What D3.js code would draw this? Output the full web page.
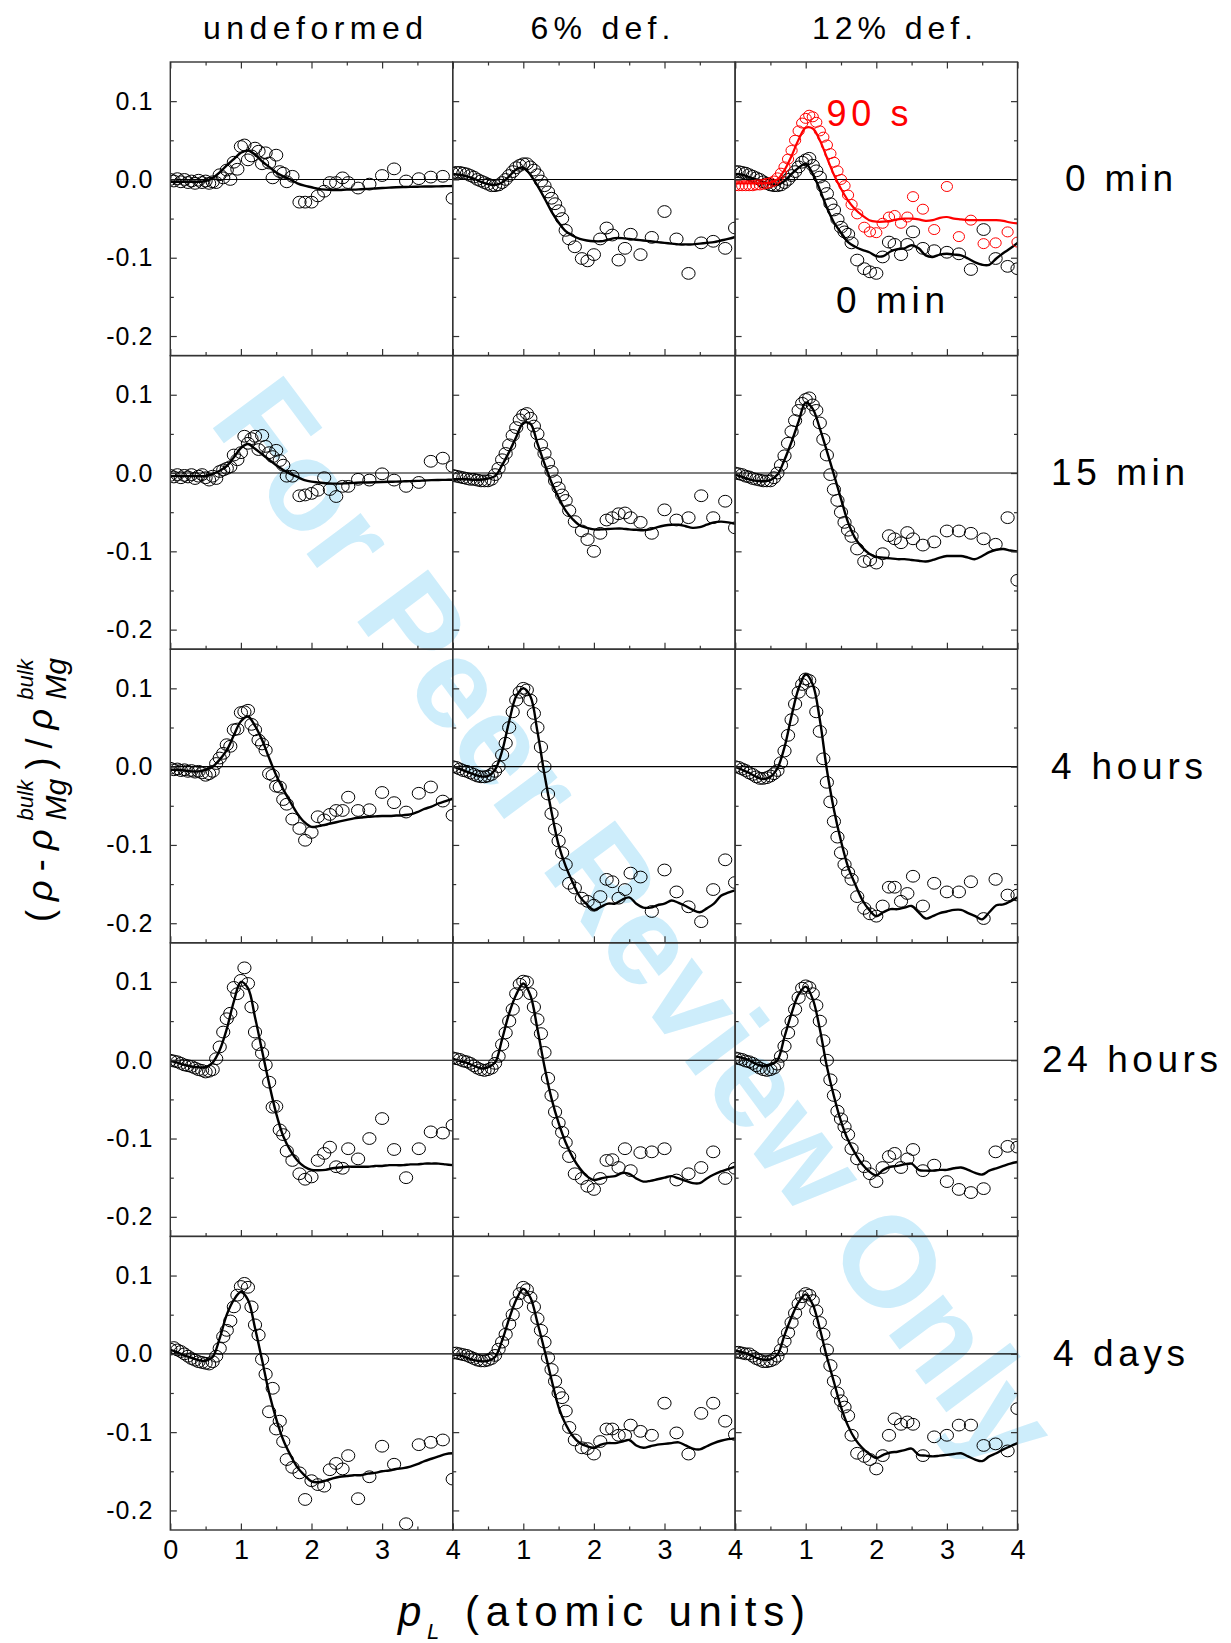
<!DOCTYPE html>
<html><head><meta charset="utf-8">
<script src="https://cdn.jsdelivr.net/npm/d3@7"></script>
<style>
body{margin:0;background:#fff}
svg{display:block}
text{font-family:"Liberation Sans",Arial,Helvetica,sans-serif}
</style>
</head><body>
<svg id="chart" width="1231" height="1643"></svg>
<script>
// ---------------- DATA ----------------
const columnTitles = ["undeformed", "6% def.", "12% def."];
const rowTitles = ["0 min", "15 min", "4 hours", "24 hours", "4 days"];
const yTickValues = [0.1, 0.0, -0.1, -0.2];
const yMinorValues = [0.05, -0.05, -0.15];
const xTickValues = [0, 1, 2, 3, 4];
const xMinorValues = [0.5, 1.5, 2.5, 3.5];

// momentum positions of the measured points
const xPts = [0,0.05,0.1,0.15,0.2,0.25,0.3,0.35,0.4,0.45,
  0.5,0.55,0.6,0.65,0.7,0.75,0.8,0.85,0.9,0.95,
  1.0,1.05,1.1,1.15,1.2,1.25,1.3,1.35,1.4,1.45,
  1.5,1.55,
  1.6,1.65,1.73,1.83,1.91,2.0,2.09,2.18,2.26,2.35,
  2.44,2.52,2.66,2.82,3.0,3.17,3.34,3.52,3.69,3.86,
  4.0];
// momentum positions of the fitted curves
const xFit = [0,0.1,0.2,0.3,0.4,0.5,0.6,0.7,0.8,0.9,
  1.0,1.1,1.2,1.3,1.4,1.5,1.6,1.7,1.8,1.9,
  2.0,2.1,2.2,2.3,2.4,2.5,2.6,2.7,2.8,2.9,
  3.0,3.1,3.2,3.3,3.4,3.5,3.6,3.7,3.8,3.9,
  4.0];

// ---- row 1 : 0 min ----
const undef_0min_pts = [0.0,-0.002,0.001,-0.003,0.0,-0.004,-0.002,-0.005,-0.001,-0.004,
  -0.002,-0.005,-0.003,-0.004,0.006,0.002,0.012,0.0,0.022,0.013,
  0.042,0.044,0.025,0.03,0.04,0.036,0.02,0.034,0.021,0.002,
  0.031,0.01,
  0.008,-0.003,0.004,-0.029,-0.029,-0.029,-0.021,-0.015,-0.004,-0.004,
  0.002,-0.004,-0.011,-0.006,0.005,0.0135,-0.002,0.001,0.003,0.004,
  -0.024];
const undef_0min_fit = [-0.003,-0.003,-0.003,-0.003,-0.003,-0.002,0.002,0.009,0.018,0.026,
  0.034,0.037,0.032,0.023,0.016,0.009,0.004,0.0,-0.005,-0.008,
  -0.010,-0.012,-0.013,-0.0135,-0.0135,-0.013,-0.013,-0.0125,-0.012,-0.0115,
  -0.011,-0.0105,-0.010,-0.0097,-0.0095,-0.0093,-0.009,-0.009,-0.0088,-0.0086,
  -0.0084];
const def6_0min_pts = [0.008,0.009,0.009,0.008,0.007,0.005,0.003,0.0,-0.002,-0.004,
  -0.006,-0.008,-0.008,-0.007,-0.004,0.0,0.005,0.01,0.015,0.018,
  0.02,0.02,0.016,0.012,0.006,-0.002,-0.008,-0.016,-0.024,-0.031,
  -0.04,-0.05,
  -0.065,-0.076,-0.086,-0.101,-0.104,-0.096,-0.076,-0.062,-0.071,-0.103,
  -0.088,-0.070,-0.096,-0.074,-0.041,-0.076,-0.12,-0.081,-0.079,-0.088,
  -0.062];
const def6_0min_fit = [0.007,0.006,0.004,0.001,-0.003,-0.006,-0.007,-0.004,0.004,0.013,
  0.015,0.006,-0.008,-0.024,-0.041,-0.055,-0.066,-0.072,-0.076,-0.078,
  -0.079,-0.079,-0.077,-0.075,-0.075,-0.076,-0.077,-0.078,-0.079,-0.080,
  -0.081,-0.082,-0.083,-0.083,-0.083,-0.082,-0.081,-0.080,-0.078,-0.076,
  -0.0735];
const def12_0min_pts = [0.01,0.01,0.009,0.008,0.006,0.004,0.002,0.0,-0.003,-0.005,
  -0.007,-0.008,-0.008,-0.007,-0.004,0.0,0.005,0.01,0.016,0.022,
  0.025,0.027,0.018,0.011,0.003,-0.009,-0.018,-0.031,-0.039,-0.051,
  -0.061,-0.067,
  -0.07,-0.081,-0.103,-0.114,-0.118,-0.12,-0.099,-0.08,-0.083,-0.096,
  -0.083,-0.067,-0.088,-0.091,-0.093,-0.095,-0.115,-0.064,-0.101,-0.111,
  -0.114];
const def12_0min_fit = [0.007,0.006,0.003,0.0,-0.003,-0.006,-0.007,-0.002,0.007,0.015,
  0.02,0.007,-0.013,-0.036,-0.055,-0.068,-0.080,-0.086,-0.090,-0.093,
  -0.098,-0.098,-0.092,-0.089,-0.088,-0.084,-0.088,-0.097,-0.099,-0.096,
  -0.095,-0.096,-0.097,-0.101,-0.106,-0.109,-0.109,-0.101,-0.094,-0.088,
  -0.081];
const def12_90s_pts = [-0.008,-0.008,-0.008,-0.008,-0.008,-0.008,-0.007,-0.007,-0.006,-0.005,
  -0.004,-0.002,0.002,0.008,0.016,0.026,0.037,0.05,0.062,0.072,
  0.078,0.082,0.08,0.073,0.062,0.054,0.044,0.033,0.022,0.011,
  0.0,-0.008,
  -0.02,-0.032,-0.044,-0.061,-0.067,-0.068,-0.056,-0.048,-0.046,-0.056,
  -0.048,-0.022,-0.038,-0.064,-0.009,-0.073,-0.052,-0.082,-0.081,-0.067,
  -0.08];
const def12_90s_fit = [-0.005,-0.005,-0.005,-0.005,-0.005,-0.004,0.0,0.012,0.03,0.051,
  0.066,0.065,0.05,0.028,0.006,-0.012,-0.027,-0.038,-0.046,-0.052,
  -0.054,-0.054,-0.053,-0.051,-0.050,-0.050,-0.051,-0.053,-0.052,-0.049,
  -0.048,-0.050,-0.051,-0.052,-0.052,-0.052,-0.052,-0.052,-0.053,-0.055,
  -0.056];

// ---- row 2 : 15 min ----
const undef_15min_pts = [-0.003,-0.005,-0.002,-0.006,-0.003,-0.005,-0.002,-0.007,-0.004,-0.002,
  -0.006,-0.009,-0.004,-0.007,0.002,0.004,0.006,0.008,0.023,0.017,
  0.026,0.047,0.038,0.044,0.047,0.03,0.048,0.034,0.026,0.021,
  0.029,0.016,
  0.01,-0.004,-0.004,-0.029,-0.028,-0.026,-0.022,-0.006,-0.021,-0.03,
  -0.017,-0.017,-0.008,-0.009,-0.001,-0.009,-0.017,-0.012,0.015,0.019,
  0.0085];
const undef_15min_fit = [-0.004,-0.004,-0.004,-0.004,-0.004,-0.004,-0.001,0.003,0.009,0.02,
  0.032,0.037,0.031,0.024,0.017,0.010,0.004,-0.001,-0.005,-0.009,
  -0.011,-0.012,-0.013,-0.0135,-0.0135,-0.013,-0.0125,-0.012,-0.012,-0.0118,
  -0.0115,-0.0112,-0.011,-0.0107,-0.0103,-0.01,-0.0095,-0.009,-0.0088,-0.0087,
  -0.0085];
const def6_15min_pts = [-0.003,-0.004,-0.005,-0.006,-0.007,-0.008,-0.008,-0.009,-0.01,-0.01,
  -0.01,-0.008,-0.002,0.006,0.017,0.025,0.036,0.048,0.058,0.068,
  0.074,0.076,0.07,0.06,0.05,0.036,0.025,0.013,0.002,-0.01,
  -0.019,-0.028,
  -0.035,-0.048,-0.062,-0.074,-0.085,-0.1,-0.077,-0.06,-0.057,-0.052,
  -0.051,-0.057,-0.063,-0.077,-0.047,-0.06,-0.057,-0.029,-0.057,-0.036,
  -0.07];
const def6_15min_fit = [-0.008,-0.008,-0.008,-0.0085,-0.0085,-0.007,-0.004,0.01,0.027,0.046,
  0.064,0.063,0.038,0.012,-0.012,-0.031,-0.048,-0.059,-0.067,-0.070,
  -0.072,-0.072,-0.0715,-0.071,-0.071,-0.072,-0.0725,-0.073,-0.072,-0.069,
  -0.067,-0.066,-0.066,-0.068,-0.070,-0.069,-0.066,-0.063,-0.062,-0.063,
  -0.065];
const def12_15min_pts = [0.0,-0.001,-0.002,-0.004,-0.005,-0.007,-0.008,-0.009,-0.01,-0.01,
  -0.01,-0.006,0.0,0.01,0.022,0.038,0.053,0.067,0.08,0.089,
  0.094,0.096,0.087,0.08,0.064,0.043,0.023,-0.002,-0.021,-0.035,
  -0.05,-0.063,
  -0.073,-0.081,-0.097,-0.113,-0.111,-0.115,-0.103,-0.08,-0.084,-0.089,
  -0.076,-0.084,-0.092,-0.088,-0.074,-0.074,-0.077,-0.084,-0.091,-0.057,
  -0.137];
const def12_15min_fit = [-0.002,-0.005,-0.008,-0.010,-0.0105,-0.009,-0.002,0.017,0.040,0.066,
  0.090,0.082,0.057,0.028,-0.002,-0.033,-0.063,-0.083,-0.095,-0.103,
  -0.107,-0.108,-0.109,-0.110,-0.110,-0.111,-0.112,-0.113,-0.111,-0.108,
  -0.106,-0.106,-0.106,-0.108,-0.110,-0.106,-0.101,-0.098,-0.097,-0.099,
  -0.1];

// ---- row 3 : 4 hours ----
const undef_4h_pts = [-0.002,-0.004,-0.003,-0.005,-0.004,-0.006,-0.005,-0.007,-0.006,-0.008,
  -0.011,-0.009,-0.006,0.004,0.011,0.017,0.028,0.026,0.047,0.048,
  0.069,0.07,0.072,0.054,0.047,0.034,0.029,0.021,-0.009,-0.011,
  -0.025,-0.026,
  -0.042,-0.048,-0.067,-0.079,-0.094,-0.084,-0.064,-0.068,-0.061,-0.056,
  -0.056,-0.039,-0.056,-0.055,-0.033,-0.046,-0.058,-0.034,-0.026,-0.044,
  -0.062];
const undef_4h_fit = [-0.004,-0.004,-0.005,-0.006,-0.006,-0.004,0.0,0.009,0.021,0.040,
  0.058,0.064,0.052,0.034,0.011,-0.011,-0.029,-0.045,-0.060,-0.071,
  -0.077,-0.076,-0.074,-0.072,-0.070,-0.068,-0.066,-0.065,-0.064,-0.0635,
  -0.063,-0.063,-0.0625,-0.062,-0.061,-0.058,-0.054,-0.051,-0.047,-0.044,
  -0.041];
const def6_4h_pts = [0.0,-0.001,-0.003,-0.005,-0.006,-0.008,-0.01,-0.012,-0.013,-0.013,
  -0.012,-0.01,-0.006,0.0,0.015,0.03,0.05,0.07,0.085,0.095,
  0.1,0.098,0.085,0.068,0.05,0.025,0.0,-0.035,-0.06,-0.08,
  -0.095,-0.11,
  -0.125,-0.149,-0.155,-0.168,-0.172,-0.177,-0.166,-0.144,-0.147,-0.168,
  -0.157,-0.136,-0.141,-0.185,-0.132,-0.16,-0.179,-0.198,-0.157,-0.119,
  -0.148];
const def6_4h_fit = [0.0,-0.003,-0.0065,-0.010,-0.0125,-0.012,-0.004,0.020,0.058,0.090,
  0.100,0.090,0.045,-0.010,-0.058,-0.100,-0.127,-0.148,-0.166,-0.176,
  -0.183,-0.179,-0.175,-0.175,-0.170,-0.167,-0.175,-0.180,-0.180,-0.177,
  -0.175,-0.171,-0.174,-0.178,-0.183,-0.186,-0.181,-0.175,-0.165,-0.161,
  -0.158];
const def12_4h_pts = [0.0,-0.001,-0.003,-0.005,-0.008,-0.01,-0.013,-0.015,-0.015,-0.014,
  -0.012,-0.009,-0.005,0.005,0.02,0.04,0.06,0.08,0.095,0.105,
  0.112,0.11,0.095,0.07,0.045,0.01,-0.02,-0.045,-0.07,-0.09,
  -0.11,-0.125,
  -0.135,-0.144,-0.166,-0.181,-0.188,-0.191,-0.178,-0.154,-0.154,-0.172,
  -0.162,-0.14,-0.178,-0.149,-0.16,-0.16,-0.147,-0.194,-0.144,-0.164,
  -0.164];
const def12_4h_fit = [0.0,-0.004,-0.008,-0.013,-0.016,-0.013,-0.002,0.025,0.065,0.100,
  0.118,0.105,0.060,-0.004,-0.055,-0.095,-0.128,-0.150,-0.170,-0.183,
  -0.191,-0.186,-0.182,-0.182,-0.180,-0.178,-0.186,-0.194,-0.191,-0.187,
  -0.185,-0.183,-0.183,-0.187,-0.191,-0.195,-0.186,-0.177,-0.176,-0.172,
  -0.167];

// ---- row 4 : 24 hours ----
const undef_24h_pts = [0.0,-0.001,-0.002,-0.004,-0.006,-0.007,-0.008,-0.01,-0.012,-0.013,
  -0.015,-0.014,-0.012,0.002,0.017,0.036,0.053,0.06,0.093,0.085,
  0.102,0.118,0.098,0.068,0.036,0.02,0.009,-0.006,-0.028,-0.06,
  -0.059,-0.089,
  -0.095,-0.116,-0.128,-0.145,-0.152,-0.149,-0.128,-0.119,-0.111,-0.136,
  -0.138,-0.113,-0.126,-0.1,-0.0745,-0.114,-0.15,-0.113,-0.0915,-0.093,
  -0.083];
const undef_24h_fit = [-0.001,-0.003,-0.006,-0.008,-0.009,-0.009,-0.003,0.013,0.040,0.075,
  0.100,0.092,0.055,0.012,-0.030,-0.068,-0.097,-0.115,-0.128,-0.136,
  -0.140,-0.1405,-0.140,-0.138,-0.137,-0.136,-0.136,-0.136,-0.136,-0.135,
  -0.135,-0.134,-0.134,-0.134,-0.133,-0.133,-0.132,-0.132,-0.132,-0.133,
  -0.134];
const def6_24h_pts = [0.003,0.002,0.001,-0.001,-0.002,-0.004,-0.007,-0.01,-0.012,-0.013,
  -0.012,-0.01,-0.004,0.005,0.02,0.035,0.05,0.065,0.085,0.097,
  0.101,0.1,0.085,0.068,0.052,0.034,0.01,-0.023,-0.045,-0.066,
  -0.08,-0.092,
  -0.105,-0.123,-0.145,-0.151,-0.161,-0.165,-0.151,-0.128,-0.127,-0.137,
  -0.113,-0.141,-0.118,-0.117,-0.113,-0.153,-0.145,-0.137,-0.117,-0.151,
  -0.138];
const def6_24h_fit = [0.002,-0.001,-0.0035,-0.007,-0.0105,-0.009,-0.003,0.027,0.060,0.084,
  0.098,0.083,0.040,-0.008,-0.049,-0.080,-0.105,-0.124,-0.138,-0.148,
  -0.153,-0.151,-0.149,-0.148,-0.144,-0.145,-0.151,-0.155,-0.154,-0.152,
  -0.150,-0.148,-0.151,-0.154,-0.157,-0.157,-0.151,-0.146,-0.142,-0.139,
  -0.136];
const def12_24h_pts = [0.003,0.002,0.001,-0.001,-0.002,-0.004,-0.007,-0.01,-0.012,-0.013,
  -0.012,-0.01,-0.005,0.005,0.018,0.035,0.05,0.065,0.08,0.092,
  0.095,0.093,0.085,0.07,0.05,0.025,0.0,-0.025,-0.045,-0.065,
  -0.075,-0.085,
  -0.095,-0.113,-0.126,-0.136,-0.145,-0.155,-0.137,-0.123,-0.119,-0.137,
  -0.126,-0.114,-0.141,-0.134,-0.155,-0.165,-0.169,-0.164,-0.117,-0.11,
  -0.111];
const def12_24h_fit = [0.005,0.003,0.0,-0.005,-0.0075,-0.006,0.0,0.030,0.060,0.084,
  0.094,0.078,0.040,-0.008,-0.046,-0.078,-0.102,-0.119,-0.133,-0.142,
  -0.147,-0.140,-0.136,-0.135,-0.133,-0.132,-0.140,-0.141,-0.141,-0.140,
  -0.140,-0.138,-0.137,-0.140,-0.144,-0.146,-0.141,-0.138,-0.135,-0.132,
  -0.13];

// ---- row 5 : 4 days ----
const undef_4d_pts = [0.006,0.008,0.005,0.003,0.0,-0.003,-0.006,-0.008,-0.01,-0.011,
  -0.012,-0.013,-0.01,-0.003,0.007,0.022,0.03,0.042,0.06,0.075,
  0.086,0.09,0.085,0.06,0.037,0.024,-0.007,-0.026,-0.074,-0.044,
  -0.096,-0.086,
  -0.112,-0.135,-0.145,-0.152,-0.186,-0.162,-0.167,-0.169,-0.148,-0.14,
  -0.147,-0.13,-0.185,-0.157,-0.118,-0.141,-0.217,-0.116,-0.113,-0.11,
  -0.16];
const undef_4d_fit = [0.005,0.002,-0.002,-0.005,-0.008,-0.009,-0.004,0.020,0.050,0.069,
  0.079,0.069,0.033,-0.008,-0.050,-0.083,-0.110,-0.129,-0.145,-0.155,
  -0.163,-0.164,-0.162,-0.159,-0.157,-0.156,-0.155,-0.155,-0.153,-0.152,
  -0.150,-0.149,-0.147,-0.146,-0.144,-0.141,-0.137,-0.134,-0.131,-0.128,
  -0.127];
const def6_4d_pts = [0.001,0.001,0.0,-0.001,-0.002,-0.004,-0.006,-0.008,-0.009,-0.009,
  -0.008,-0.006,-0.002,0.006,0.015,0.025,0.038,0.05,0.065,0.077,
  0.085,0.082,0.072,0.06,0.045,0.03,0.015,-0.005,-0.02,-0.035,
  -0.05,-0.056,
  -0.073,-0.094,-0.11,-0.12,-0.121,-0.128,-0.112,-0.096,-0.096,-0.104,
  -0.104,-0.091,-0.099,-0.104,-0.063,-0.101,-0.128,-0.076,-0.063,-0.086,
  -0.103];
const def6_4d_fit = [-0.001,-0.002,-0.005,-0.008,-0.0095,-0.009,-0.004,0.017,0.045,0.069,
  0.083,0.072,0.040,0.005,-0.033,-0.068,-0.090,-0.105,-0.114,-0.118,
  -0.120,-0.116,-0.114,-0.114,-0.112,-0.110,-0.117,-0.120,-0.118,-0.116,
  -0.115,-0.114,-0.113,-0.117,-0.121,-0.122,-0.118,-0.114,-0.111,-0.109,
  -0.108];
const def12_4d_pts = [0.002,0.002,0.001,0.0,0.0,-0.003,-0.006,-0.008,-0.01,-0.01,
  -0.009,-0.007,-0.003,0.005,0.016,0.027,0.04,0.052,0.064,0.073,
  0.077,0.075,0.068,0.055,0.04,0.025,0.005,-0.015,-0.035,-0.05,
  -0.06,-0.068,
  -0.079,-0.104,-0.127,-0.131,-0.135,-0.147,-0.13,-0.104,-0.083,-0.09,
  -0.087,-0.09,-0.13,-0.106,-0.104,-0.091,-0.091,-0.117,-0.115,-0.124,
  -0.07];
const def12_4d_fit = [0.004,0.002,-0.001,-0.005,-0.0075,-0.007,-0.001,0.024,0.047,0.066,
  0.076,0.063,0.032,-0.004,-0.036,-0.068,-0.092,-0.109,-0.120,-0.128,
  -0.133,-0.129,-0.126,-0.125,-0.123,-0.121,-0.129,-0.130,-0.131,-0.130,
  -0.129,-0.128,-0.127,-0.131,-0.135,-0.137,-0.131,-0.127,-0.122,-0.118,
  -0.114];

const panelSeries = [
  [[undef_0min_pts, undef_0min_fit], [def6_0min_pts, def6_0min_fit], [def12_0min_pts, def12_0min_fit]],
  [[undef_15min_pts, undef_15min_fit], [def6_15min_pts, def6_15min_fit], [def12_15min_pts, def12_15min_fit]],
  [[undef_4h_pts, undef_4h_fit], [def6_4h_pts, def6_4h_fit], [def12_4h_pts, def12_4h_fit]],
  [[undef_24h_pts, undef_24h_fit], [def6_24h_pts, def6_24h_fit], [def12_24h_pts, def12_24h_fit]],
  [[undef_4d_pts, undef_4d_fit], [def6_4d_pts, def6_4d_fit], [def12_4d_pts, def12_4d_fit]]
];

// ---------------- LAYOUT ----------------
const W = 1231, H = 1643;
const colX = [170.3, 452.7, 735.1], panelW = 282.4;
const rowTop = 62, panelH = 293.6;
const yDomain = [-0.225, 0.15], xDomain = [0, 4];
const FONT = '"Liberation Sans", Arial, Helvetica, sans-serif';

const svg = d3.select('#chart');
svg.append('rect').attr('width', W).attr('height', H).attr('fill', '#fff');

// watermark (behind everything)
svg.append('text')
  .attr('transform', 'translate(601,949) rotate(53.3)')
  .attr('text-anchor', 'middle')
  .attr('font-size', 128).attr('font-weight', 'bold')
  .attr('fill', '#cdedfb')
  .text('For Peer Review Only');

const zip = (xs, ys) => ys.map((v, i) => [xs[i], v]).filter(d => d[0] !== undefined);

function tickAxis(g, axisFn, scale, values, size) {
  g.call(axisFn(scale).tickValues(values).tickSize(size).tickFormat(''));
  g.select('.domain').remove();
  g.selectAll('.tick line').attr('stroke', '#333').attr('stroke-width', 1.2);
}

for (let r = 0; r < 5; r++) {
  for (let c = 0; c < 3; c++) {
    const x0 = colX[c], y0 = rowTop + r * panelH;
    const x = d3.scaleLinear().domain(xDomain).range([x0, x0 + panelW]);
    const y = d3.scaleLinear().domain(yDomain).range([y0 + panelH, y0]);
    const id = `clip-${r}-${c}`;
    svg.append('clipPath').attr('id', id).append('rect')
      .attr('x', x0).attr('y', y0).attr('width', panelW).attr('height', panelH);
    const g = svg.append('g');
    const inner = g.append('g').attr('clip-path', `url(#${id})`);

    // zero line
    inner.append('line').attr('x1', x(0)).attr('x2', x(4)).attr('y1', y(0)).attr('y2', y(0))
      .attr('stroke', '#000').attr('stroke-width', 1.1);

    const drawSeries = (pts, fit, color, rx, ry, lw) => {
      inner.append('g').selectAll('ellipse').data(zip(xPts, pts)).join('ellipse')
        .attr('cx', d => x(d[0])).attr('cy', d => y(d[1]))
        .attr('rx', rx).attr('ry', ry)
        .attr('fill', 'none').attr('stroke', color).attr('stroke-width', 1);
      inner.append('path').datum(zip(xFit, fit))
        .attr('d', d3.line().x(d => x(d[0])).y(d => y(d[1])).curve(d3.curveCatmullRom.alpha(0.5)))
        .attr('fill', 'none').attr('stroke', color).attr('stroke-width', lw)
        .attr('stroke-linejoin', 'round');
    };
    const [pts, fit] = panelSeries[r][c];
    drawSeries(pts, fit, '#000', 6.6, 5.9, 2.4);
    if (r === 0 && c === 2) drawSeries(def12_90s_pts, def12_90s_fit, '#ff0000', 5.6, 5.0, 2.2);

    // ticks (inward)
    tickAxis(g.append('g').attr('transform', `translate(0,${y0 + panelH})`), d3.axisBottom, x, xTickValues, -6.5);
    tickAxis(g.append('g').attr('transform', `translate(0,${y0 + panelH})`), d3.axisBottom, x, xMinorValues, -3.5);
    if (r === 0) {
      tickAxis(g.append('g').attr('transform', `translate(0,${y0})`), d3.axisTop, x, xTickValues, -6.5);
      tickAxis(g.append('g').attr('transform', `translate(0,${y0})`), d3.axisTop, x, xMinorValues, -3.5);
    }
    tickAxis(g.append('g').attr('transform', `translate(${x0},0)`), d3.axisLeft, y, yTickValues, -6.5);
    tickAxis(g.append('g').attr('transform', `translate(${x0},0)`), d3.axisLeft, y, yMinorValues, -3.5);
    if (c === 2) {
      tickAxis(g.append('g').attr('transform', `translate(${x0 + panelW},0)`), d3.axisRight, y, yTickValues, -6.5);
      tickAxis(g.append('g').attr('transform', `translate(${x0 + panelW},0)`), d3.axisRight, y, yMinorValues, -3.5);
    }

    // frame
    g.append('rect').attr('x', x0).attr('y', y0).attr('width', panelW).attr('height', panelH)
      .attr('fill', 'none').attr('stroke', '#333').attr('stroke-width', 1.4);

    // y tick labels (first column)
    if (c === 0) {
      const ya = g.append('g').attr('transform', `translate(${x0},0)`)
        .call(d3.axisLeft(y).tickValues(yTickValues).tickSize(0).tickPadding(17)
          .tickFormat(d => d.toFixed(1)));
      ya.select('.domain').remove();
      ya.selectAll('text').attr('font-size', 25).attr('font-family', FONT)
        .attr('fill', '#000').attr('letter-spacing', 1);
    }
    // x tick labels (bottom row)
    if (r === 4) {
      const vals = c === 0 ? xTickValues : xTickValues.slice(1);
      const xa = g.append('g').attr('transform', `translate(0,${y0 + panelH})`)
        .call(d3.axisBottom(x).tickValues(vals).tickSize(0).tickPadding(10).tickFormat(d3.format('d')));
      xa.select('.domain').remove();
      xa.selectAll('text').attr('font-size', 27).attr('font-family', FONT).attr('fill', '#000');
    }
  }
}

// column titles
const colTitlePos = [[203, 220], [530.5, 140], [812, 161]];
columnTitles.forEach((t, i) => {
  svg.append('text').attr('x', colTitlePos[i][0]).attr('y', 39)
    .attr('font-size', 32).attr('textLength', colTitlePos[i][1]).attr('lengthAdjust', 'spacing')
    .text(t);
});

// row titles
const rowTitlePos = [[1065, 108], [1051, 134], [1051, 152], [1042, 176], [1053, 132]];
rowTitles.forEach((t, i) => {
  const zeroY = rowTop + i * panelH + panelH * (0.15 / 0.375);
  svg.append('text').attr('x', rowTitlePos[i][0]).attr('y', zeroY + 12)
    .attr('font-size', 37).attr('textLength', rowTitlePos[i][1]).attr('lengthAdjust', 'spacing')
    .text(t);
});

// in-panel annotations
svg.append('text').attr('x', 826.5).attr('y', 126).attr('font-size', 36).attr('fill', '#ff0000')
  .attr('textLength', 82).attr('lengthAdjust', 'spacing').text('90 s');
svg.append('text').attr('x', 836).attr('y', 313).attr('font-size', 37)
  .attr('textLength', 109).attr('lengthAdjust', 'spacing').text('0 min');

// x axis title
const xt = svg.append('g');
xt.append('text').attr('x', 398).attr('y', 1626).attr('font-size', 42).attr('font-style', 'italic').text('p');
xt.append('text').attr('x', 427).attr('y', 1639).attr('font-size', 22).attr('font-style', 'italic').text('L');
xt.append('text').attr('x', 465).attr('y', 1626).attr('font-size', 42)
  .attr('textLength', 340).attr('lengthAdjust', 'spacing').text('(atomic units)');

// y axis title (rotated), laid out run by run
const yt = svg.append('g').attr('transform', 'translate(52,922) rotate(-90)');
const runs = [
  {t: '(', s: 36}, {t: 'ρ', s: 36, i: true}, {t: '-', s: 36}, {t: 'ρ', s: 36, i: true},
  {t: 'bulk', s: 22, i: true, dy: -19, stack: true}, {t: 'Mg', s: 30, i: true, dy: 14},
  {t: ')', s: 36}, {t: '/', s: 36}, {t: 'ρ', s: 36, i: true},
  {t: 'bulk', s: 22, i: true, dy: -19, stack: true}, {t: 'Mg', s: 30, i: true, dy: 14}
];
const els = runs.map(rn => {
  const el = yt.append('text').attr('font-size', rn.s).attr('y', rn.dy || 0)
    .attr('font-style', rn.i ? 'italic' : 'normal').text(rn.t);
  return {rn, el, w: el.node().getComputedTextLength()};
});
let natural = 0, pendingStack = 0;
els.forEach(e => {
  if (e.rn.stack) { pendingStack = e.w; return; }
  natural += Math.max(e.w, pendingStack); pendingStack = 0;
});
const gaps = els.filter(e => !e.rn.stack).length - 1;
const gap = Math.max(0, (264 - natural) / gaps);
let cur = 0; pendingStack = 0;
els.forEach(e => {
  if (e.rn.stack) { e.el.attr('x', cur); pendingStack = e.w; return; }
  e.el.attr('x', cur);
  cur += Math.max(e.w, pendingStack) + gap; pendingStack = 0;
});
</script>
</body></html>
